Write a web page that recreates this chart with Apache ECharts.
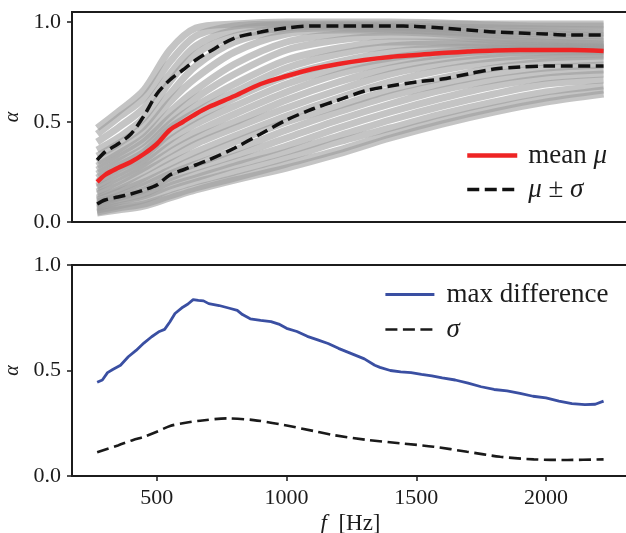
<!DOCTYPE html>
<html>
<head>
<meta charset="utf-8">
<script src="https://cdn.jsdelivr.net/npm/echarts@6/dist/echarts.min.js"></script>
<style>
  html, body { margin: 0; padding: 0; background: #fff; }
  #chart { width: 626px; height: 533px; }
</style>
</head>
<body>
<div id="chart"></div>
<script>
// Absorption coefficient alpha of individual samples versus frequency
const sampleFreq = [270, 350, 450, 550, 650, 800, 1000, 1200, 1400, 1600, 1800, 2000, 2222];
const sampleCurves = [
  [0.47, 0.55, 0.66, 0.86, 0.97, 0.99, 1.00, 1.00, 1.00, 0.995, 0.99, 0.99, 0.99],
  [0.44, 0.52, 0.62, 0.80, 0.93, 0.98, 0.99, 0.99, 0.99, 0.99, 0.985, 0.98, 0.98],
  [0.40, 0.47, 0.57, 0.74, 0.88, 0.96, 0.985, 0.985, 0.98, 0.975, 0.97, 0.965, 0.96],
  [0.36, 0.42, 0.52, 0.70, 0.84, 0.93, 0.97, 0.98, 0.975, 0.965, 0.955, 0.95, 0.945],
  [0.33, 0.39, 0.48, 0.64, 0.78, 0.90, 0.96, 0.97, 0.965, 0.955, 0.945, 0.94, 0.93],
  [0.30, 0.36, 0.45, 0.60, 0.72, 0.85, 0.94, 0.96, 0.96, 0.95, 0.935, 0.925, 0.92],
  [0.28, 0.34, 0.42, 0.55, 0.66, 0.79, 0.90, 0.94, 0.95, 0.94, 0.92, 0.91, 0.90],
  [0.26, 0.32, 0.40, 0.52, 0.62, 0.74, 0.86, 0.91, 0.93, 0.925, 0.91, 0.90, 0.89],
  [0.24, 0.30, 0.37, 0.49, 0.58, 0.69, 0.81, 0.87, 0.90, 0.90, 0.895, 0.89, 0.885],
  [0.22, 0.28, 0.35, 0.47, 0.55, 0.65, 0.77, 0.84, 0.88, 0.89, 0.885, 0.88, 0.875],
  [0.20, 0.26, 0.33, 0.44, 0.52, 0.62, 0.73, 0.80, 0.85, 0.87, 0.875, 0.875, 0.87],
  [0.18, 0.24, 0.31, 0.41, 0.49, 0.58, 0.69, 0.77, 0.82, 0.85, 0.865, 0.87, 0.865],
  [0.17, 0.22, 0.29, 0.38, 0.45, 0.54, 0.65, 0.74, 0.80, 0.835, 0.855, 0.86, 0.86],
  [0.15, 0.20, 0.27, 0.35, 0.42, 0.50, 0.61, 0.70, 0.77, 0.815, 0.84, 0.85, 0.85],
  [0.14, 0.18, 0.25, 0.32, 0.39, 0.47, 0.57, 0.66, 0.74, 0.79, 0.82, 0.835, 0.84],
  [0.12, 0.16, 0.22, 0.29, 0.35, 0.43, 0.53, 0.62, 0.70, 0.76, 0.80, 0.82, 0.83],
  [0.11, 0.15, 0.20, 0.26, 0.32, 0.40, 0.50, 0.58, 0.66, 0.72, 0.77, 0.80, 0.81],
  [0.10, 0.13, 0.18, 0.24, 0.29, 0.36, 0.46, 0.55, 0.63, 0.69, 0.74, 0.77, 0.785],
  [0.09, 0.12, 0.16, 0.22, 0.27, 0.33, 0.42, 0.51, 0.59, 0.66, 0.71, 0.745, 0.76],
  [0.08, 0.11, 0.14, 0.20, 0.24, 0.30, 0.38, 0.47, 0.55, 0.62, 0.68, 0.72, 0.74],
  [0.07, 0.10, 0.13, 0.18, 0.22, 0.28, 0.35, 0.43, 0.51, 0.58, 0.64, 0.69, 0.71],
  [0.06, 0.08, 0.11, 0.16, 0.20, 0.25, 0.32, 0.40, 0.47, 0.54, 0.60, 0.65, 0.68],
  [0.05, 0.07, 0.09, 0.13, 0.17, 0.22, 0.29, 0.36, 0.44, 0.51, 0.57, 0.62, 0.66],
  [0.045, 0.06, 0.08, 0.12, 0.16, 0.21, 0.27, 0.34, 0.42, 0.49, 0.55, 0.60, 0.64]
];

// Mean and mean +/- standard deviation
const statFreq = [270, 300, 350, 400, 450, 500, 550, 600, 650, 700, 800, 900, 1000,
                  1100, 1200, 1300, 1400, 1500, 1600, 1700, 1800, 1900, 2000, 2100, 2222];
const meanAlpha = [0.20, 0.235, 0.27, 0.30, 0.34, 0.39, 0.46, 0.50, 0.54, 0.575, 0.63, 0.69, 0.73,
                   0.765, 0.79, 0.81, 0.825, 0.835, 0.845, 0.852, 0.858, 0.86, 0.86, 0.86, 0.855];
const upperAlpha = [0.31, 0.35, 0.39, 0.44, 0.53, 0.64, 0.71, 0.76, 0.81, 0.85, 0.92, 0.95, 0.97,
                    0.98, 0.98, 0.98, 0.98, 0.978, 0.97, 0.96, 0.95, 0.945, 0.94, 0.935, 0.935];
const lowerAlpha = [0.09, 0.11, 0.125, 0.14, 0.16, 0.185, 0.235, 0.26, 0.285, 0.31, 0.37, 0.44, 0.51,
                    0.565, 0.61, 0.655, 0.68, 0.70, 0.715, 0.74, 0.765, 0.775, 0.78, 0.78, 0.78];

// Standard deviation
const sigmaFreq = [270, 350, 409, 450, 500, 551, 600, 667, 770, 873, 989, 1117, 1181,
                   1310, 1438, 1567, 1696, 1824, 1953, 2082, 2222];
const sigmaAlpha = [0.113, 0.145, 0.171, 0.186, 0.21, 0.237, 0.25, 0.262, 0.273, 0.265, 0.242, 0.21, 0.194,
                    0.171, 0.155, 0.139, 0.115, 0.091, 0.079, 0.076, 0.079];

// Maximum difference between samples
const diffFreq = [270, 290, 310, 330, 360, 390, 420, 450, 480, 510, 530, 550, 570, 600, 620, 640, 660,
                  680, 700, 740, 780, 810, 830, 860, 900, 940, 970, 1000, 1040, 1080, 1120, 1160, 1200,
                  1250, 1300, 1340, 1360, 1400, 1440, 1480, 1520, 1560, 1600, 1650, 1700, 1750, 1800,
                  1850, 1900, 1950, 2000, 2050, 2100, 2150, 2190, 2222];
const maxDiff = [0.444, 0.455, 0.49, 0.505, 0.525, 0.565, 0.595, 0.63, 0.66, 0.685, 0.695, 0.73, 0.77,
                 0.80, 0.815, 0.836, 0.832, 0.83, 0.817, 0.808, 0.795, 0.785, 0.765, 0.745, 0.738, 0.732,
                 0.72, 0.70, 0.685, 0.662, 0.645, 0.628, 0.605, 0.58, 0.555, 0.525, 0.515, 0.50, 0.493,
                 0.49, 0.482, 0.475, 0.465, 0.455, 0.44, 0.423, 0.41, 0.403, 0.392, 0.378, 0.37, 0.355,
                 0.343, 0.338, 0.34, 0.355];

const yTicks = [0, 0.5, 1.0];
const xTicks = [500, 1000, 1500, 2000];

const pairs = (xs, ys) => xs.map((x, i) => [x, ys[i]]);

const SERIF = 'Liberation Serif';
const INK = '#1c1c1c';
const DASH = [12, 5.5];

const legendRich = {
  r: { fontFamily: SERIF, fontSize: 27, color: INK },
  i: { fontFamily: SERIF, fontSize: 27, fontStyle: 'italic', color: INK }
};
const legendText = {
  'mean μ': '{r|mean }{i|μ}',
  'μ ± σ': '{i|μ}{r| ± }{i|σ}',
  'max difference': '{r|max difference}',
  'σ': '{i|σ}'
};

const xAxisBase = {
  type: 'value', min: 173, max: 2320,
  splitLine: { show: false },
  axisLine: { show: false }
};
const yAxisBase = {
  type: 'value', min: 0, interval: 0.5,
  splitLine: { show: false },
  axisLine: { show: false },
  axisTick: { show: true, length: 5, lineStyle: { color: INK, width: 1.5 }, customValues: yTicks },
  axisLabel: {
    margin: 11, fontFamily: SERIF, fontSize: 22, color: INK, customValues: yTicks,
    formatter: v => v.toFixed(1)
  },
  name: 'α', nameLocation: 'middle', nameGap: 48, nameRotate: 90,
  nameTextStyle: { fontFamily: SERIF, fontSize: 20, fontStyle: 'italic', color: INK }
};

const series = [];
sampleCurves.forEach((c, k) => {
  series.push({
    name: 'sample ' + (k + 1), type: 'line', xAxisIndex: 0, yAxisIndex: 0,
    data: pairs(sampleFreq, c), smooth: 0.3, symbol: 'none', silent: true,
    lineStyle: { color: '#9c9c9c', width: 7, opacity: 0.6 }, z: 1
  });
});
series.push(
  { name: 'mean μ', type: 'line', xAxisIndex: 0, yAxisIndex: 0, data: pairs(statFreq, meanAlpha),
    smooth: 0.3, symbol: 'none', lineStyle: { color: '#ee2424', width: 4.5 }, z: 3 },
  { name: 'μ ± σ', type: 'line', xAxisIndex: 0, yAxisIndex: 0, data: pairs(statFreq, upperAlpha),
    smooth: 0.3, symbol: 'none', lineStyle: { color: '#111', width: 3.5, type: DASH }, z: 4 },
  { name: 'μ ± σ', type: 'line', xAxisIndex: 0, yAxisIndex: 0, data: pairs(statFreq, lowerAlpha),
    smooth: 0.3, symbol: 'none', lineStyle: { color: '#111', width: 3.5, type: DASH }, z: 4 },
  { name: 'max difference', type: 'line', xAxisIndex: 1, yAxisIndex: 1, data: pairs(diffFreq, maxDiff),
    symbol: 'none', lineStyle: { color: '#3a4fa2', width: 2.8 }, z: 3 },
  { name: 'σ', type: 'line', xAxisIndex: 1, yAxisIndex: 1, data: pairs(sigmaFreq, sigmaAlpha),
    smooth: 0.3, symbol: 'none', lineStyle: { color: '#1a1a1a', width: 2.6, type: DASH }, z: 3 }
);

const chart = echarts.init(document.getElementById('chart'), null, { renderer: 'canvas' });
chart.setOption({
  animation: false,
  backgroundColor: '#fff',
  grid: [
    { left: 72, top: 12, width: 557, height: 210, show: true, borderColor: INK, borderWidth: 2,
      backgroundColor: 'transparent', containLabel: false, outerBoundsMode: 'none' },
    { left: 72, top: 265, width: 557, height: 211, show: true, borderColor: INK, borderWidth: 2,
      backgroundColor: 'transparent', containLabel: false, outerBoundsMode: 'none' }
  ],
  xAxis: [
    Object.assign({}, xAxisBase, { gridIndex: 0, axisTick: { show: false }, axisLabel: { show: false } }),
    Object.assign({}, xAxisBase, {
      gridIndex: 1,
      axisTick: { show: true, length: 5, lineStyle: { color: INK, width: 1.5 }, customValues: xTicks },
      axisLabel: { margin: 11, fontFamily: SERIF, fontSize: 22, color: INK, customValues: xTicks,
                   formatter: v => String(v) },
      name: '{i|f}  [Hz]', nameLocation: 'middle', nameGap: 36,
      nameTextStyle: {
        fontFamily: SERIF, fontSize: 23, color: INK,
        rich: { i: { fontFamily: SERIF, fontSize: 23, fontStyle: 'italic', color: INK } }
      }
    })
  ],
  yAxis: [
    Object.assign({}, yAxisBase, { gridIndex: 0, max: 1.05 }),
    Object.assign({}, yAxisBase, { gridIndex: 1, max: 1.0 })
  ],
  legend: [
    { data: ['mean μ', 'μ ± σ'], orient: 'vertical', left: 460, top: 137, itemWidth: 50, itemHeight: 14,
      itemGap: 7, selectedMode: false, itemStyle: { opacity: 0 }, lineStyle: { width: 'inherit' },
      formatter: n => legendText[n], textStyle: { rich: legendRich, padding: [0, 0, 0, 6] } },
    { data: ['max difference', 'σ'], orient: 'vertical', left: 379, top: 276, itemWidth: 49, itemHeight: 14,
      itemGap: 8, selectedMode: false, itemStyle: { opacity: 0 }, lineStyle: { width: 'inherit' },
      formatter: n => legendText[n], textStyle: { rich: legendRich, padding: [0, 0, 0, 7] } }
  ],
  series: series
});
</script>
</body>
</html>
